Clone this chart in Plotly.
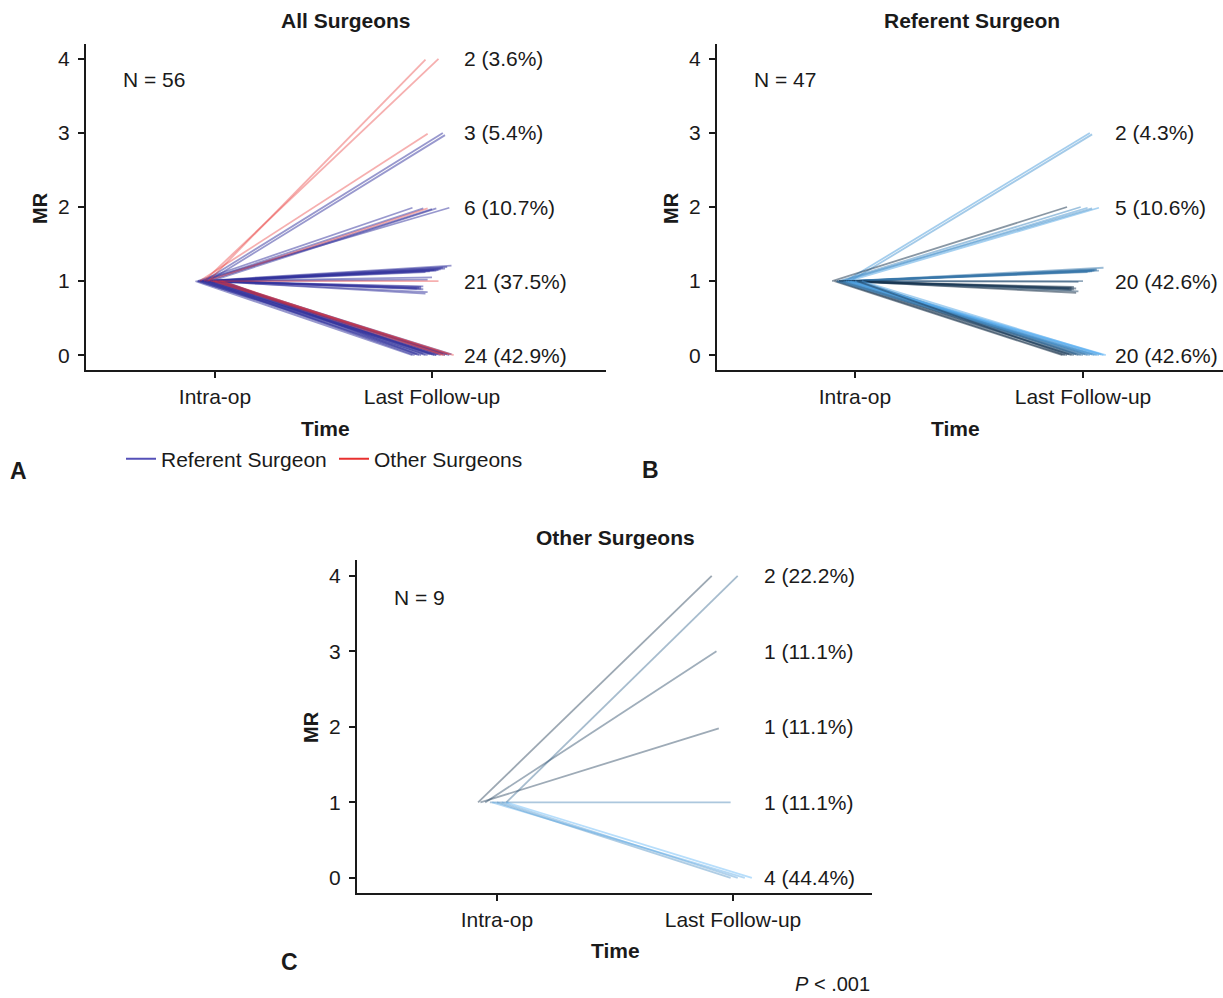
import plotly.graph_objects as go
from plotly.colors import sample_colorscale

# ---------------- data ----------------
levels = [0, 1, 2, 3, 4]
time_labels = ["Intra-op", "Last Follow-up"]
intraop_mr = 1

# Referent surgeon patients (n = 47): MR at last follow-up
ref_final = [3, 3,
             2, 2, 2, 2, 2,
             1, 1, 1, 1, 1, 1, 1, 1, 1, 1, 1, 1, 1, 1, 1, 1, 1, 1, 1, 1,
             0, 0, 0, 0, 0, 0, 0, 0, 0, 0, 0, 0, 0, 0, 0, 0, 0, 0, 0, 0]
# Other surgeons patients (n = 9)
oth_final = [4, 4, 3, 2, 1, 0, 0, 0, 0]

# Panel A jitter
A_ref_x0 = [0.95, 0.97,
            0.92, 0.94, 0.96, 0.98, 0.93,
            0.93, 0.95, 0.97, 0.99, 1.01, 0.94, 0.96, 0.98, 1.00, 1.02,
            0.95, 0.97, 0.92, 0.94, 0.96, 0.98, 1.00, 1.03, 0.95, 0.99,
            0.91, 0.93, 0.95, 0.97, 0.99, 1.01, 1.03, 0.92, 0.94, 0.96,
            0.98, 1.00, 1.02, 1.04, 0.93, 0.95, 0.97, 0.99, 1.01, 0.96]
A_ref_x1 = [2.05, 2.06,
            1.91, 1.96, 2.00, 2.02, 2.08,
            2.09, 2.07, 2.05, 2.06, 2.04, 2.03, 2.01, 2.02, 1.99, 1.97,
            2.00, 1.98, 1.96, 1.95, 1.94, 1.93, 1.95, 1.96, 1.98, 1.97,
            1.91, 1.93, 1.95, 1.96, 1.98, 1.99, 2.01, 2.02, 2.03, 2.04,
            2.05, 2.06, 2.07, 1.94, 1.97, 2.00, 2.02, 2.08, 2.09, 1.92]
A_ref_y1 = [3.00, 2.97,
            1.99, 1.98, 1.97, 1.98, 1.99,
            1.21, 1.19, 1.18, 1.17, 1.16, 1.15, 1.15, 1.14, 1.13, 1.12,
            1.05, 1.02, 0.93, 0.92, 0.91, 0.90, 0.90, 0.89, 0.85, 0.83,
            0.00, 0.01, 0.00, 0.02, 0.00, 0.01, 0.00, 0.00, 0.01, 0.00,
            0.02, 0.00, 0.01, 0.00, 0.00, 0.01, 0.00, 0.00, 0.01, 0.00]
A_oth_x0 = [0.97, 0.95, 0.93, 0.96, 0.98, 1.00, 1.02, 0.99, 1.03]
A_oth_x1 = [1.97, 2.03, 1.98, 1.98, 2.03, 2.05, 2.08, 2.10, 2.06]
A_oth_y1 = [3.99, 4.00, 2.99, 1.98, 1.00, 0.00, 0.01, 0.00, 0.00]

# Panel B jitter
B_ref_x0 = [0.96, 0.98,
            0.90, 0.93, 0.95, 0.97, 0.94,
            0.97, 0.99, 1.01, 0.98, 1.00, 0.96, 1.02, 0.99, 0.95, 1.01,
            0.93, 0.97, 0.92, 0.94, 0.96, 0.98, 0.95, 0.99, 0.93, 0.97,
            0.91, 0.92, 0.93, 0.95, 0.96, 0.98, 1.00, 1.02, 0.94, 0.97,
            0.99, 1.01, 0.92, 0.95, 0.97, 1.00, 1.03, 0.96, 0.98, 1.01]
B_ref_x1 = [2.03, 2.04,
            1.93, 1.99, 2.02, 2.07, 2.04,
            2.09, 2.06, 2.05, 2.07, 2.04, 2.03, 2.06, 2.02, 2.05, 2.04,
            2.00, 1.98, 1.96, 1.95, 1.97, 1.96, 1.94, 1.95, 1.98, 1.97,
            1.91, 1.92, 1.94, 1.95, 1.96, 1.97, 1.98, 1.99, 2.00, 2.01,
            2.02, 2.03, 2.04, 2.05, 2.06, 2.07, 2.08, 2.09, 2.10, 1.93]
B_ref_y1 = [3.00, 2.98,
            2.00, 2.00, 1.99, 1.99, 1.98,
            1.18, 1.16, 1.15, 1.14, 1.14, 1.13, 1.15, 1.12, 1.14, 1.13,
            1.00, 0.99, 0.92, 0.91, 0.90, 0.89, 0.90, 0.88, 0.86, 0.84,
            0.00, 0.00, 0.01, 0.00, 0.00, 0.01, 0.00, 0.00, 0.00, 0.01,
            0.00, 0.00, 0.01, 0.00, 0.00, 0.00, 0.01, 0.00, 0.00, 0.00]
B_ref_shade = [0.85, 0.80,
               0.05, 0.70, 0.80, 0.90, 0.75,
               0.60, 0.55, 0.60, 0.50, 0.55, 0.65, 0.60, 0.50, 0.55, 0.60,
               0.30, 0.25, 0.05, 0.00, 0.10, 0.05, 0.15, 0.10, 0.20, 0.00,
               0.00, 0.05, 0.10, 0.15, 0.20, 0.30, 0.35, 0.45, 0.50, 0.55,
               0.60, 0.65, 0.70, 0.75, 0.80, 0.85, 0.90, 0.95, 1.00, 0.10]

# Panel C jitter
C_oth_x0 = [0.92, 1.04, 0.95, 0.93, 0.97, 1.00, 1.02, 0.98, 1.04]
C_oth_x1 = [1.91, 2.02, 1.93, 1.94, 1.99, 1.99, 2.02, 2.05, 2.08]
C_oth_y1 = [4.00, 4.00, 3.00, 1.98, 1.00, 0.00, 0.00, 0.00, 0.00]
C_oth_shade = [0.05, 0.40, 0.15, 0.10, 0.60, 0.70, 0.80, 0.90, 1.00]

# ---------------- style ----------------
W, H = 1223, 998
FONT = "Liberation Sans, Arial, Helvetica, sans-serif"
FS = 21
TXT = "#1a1a1a"
REF_COL = "#34349e"
OTH_COL = "#e8302f"
GRAD = [[0, "#132B43"], [1, "#56B1F7"]]


def px_x(v):
    return v / W


def px_y(v):
    return 1 - v / H


fig = go.Figure()


def add_lines(x0s, x1s, y1s, colors, opacity, ax, width=1.8):
    for x0, x1, y1, c in zip(x0s, x1s, y1s, colors):
        fig.add_trace(go.Scatter(
            x=[x0, x1], y=[intraop_mr, y1], mode="lines",
            line=dict(color=c, width=width), opacity=opacity,
            hoverinfo="skip", showlegend=False,
            xaxis="x" + ax, yaxis="y" + ax))


# Panel A
add_lines(A_ref_x0, A_ref_x1, A_ref_y1, [REF_COL] * len(A_ref_x0), 0.5, "")
add_lines(A_oth_x0, A_oth_x1, A_oth_y1, [OTH_COL] * len(A_oth_x0), 0.38, "")
# Panel B
add_lines(B_ref_x0, B_ref_x1, B_ref_y1, sample_colorscale(GRAD, B_ref_shade), 0.5, "2")
# Panel C
add_lines(C_oth_x0, C_oth_x1, C_oth_y1, sample_colorscale(GRAD, C_oth_shade), 0.42, "3")

# legend entries
fig.add_trace(go.Scatter(x=[None], y=[None], mode="lines", name="Referent Surgeon",
                         line=dict(color="#5550b8", width=2), xaxis="x", yaxis="y"))
fig.add_trace(go.Scatter(x=[None], y=[None], mode="lines", name="Other Surgeons",
                         line=dict(color="#e8302f", width=2), xaxis="x", yaxis="y"))

# ---------------- axes ----------------
def axis_common():
    return dict(showline=True, linecolor="#1a1a1a", linewidth=2, ticks="outside",
                ticklen=6, tickwidth=1.5, tickcolor="#1a1a1a", showgrid=False,
                zeroline=False, fixedrange=True,
                tickfont=dict(family=FONT, size=FS, color=TXT))


def xaxis(dom, rng, anchor):
    d = axis_common()
    d.update(domain=dom, range=rng, anchor=anchor, tickvals=[1, 2],
             ticktext=time_labels, ticklabelstandoff=1)
    return d


def yaxis(dom, rng, anchor):
    d = axis_common()
    d.update(domain=dom, range=rng, anchor=anchor, tickvals=levels,
             ticklabelstandoff=4)
    return d


# pixel geometry of the panels
A_dom_x = [px_x(86), px_x(606)]
A_dom_y = [px_y(370), px_y(44)]
B_dom_x = [px_x(717), px_x(1223)]
C_dom_x = [px_x(357), px_x(872)]
C_dom_y = [px_y(893), px_y(560)]

fig.update_layout(
    width=W, height=H, margin=dict(l=0, r=0, t=0, b=0),
    paper_bgcolor="white", plot_bgcolor="white",
    font=dict(family=FONT, size=FS, color=TXT),
    xaxis=xaxis(A_dom_x, [0.4055, 2.802], "y"),
    yaxis=yaxis(A_dom_y, [-0.2, 4.2], "x"),
    xaxis2=xaxis(B_dom_x, [0.395, 2.614], "y2"),
    yaxis2=yaxis(A_dom_y, [-0.2, 4.2], "x2"),
    xaxis3=xaxis(C_dom_x, [0.407, 2.589], "y3"),
    yaxis3=yaxis(C_dom_y, [-0.2, 4.21], "x3"),
    legend=dict(orientation="h", x=px_x(121), y=px_y(459), xanchor="left",
                yanchor="middle", font=dict(family=FONT, size=FS, color=TXT),
                bgcolor="rgba(0,0,0,0)", itemwidth=30,
                entrywidth=168, entrywidthmode="pixels"),
)

ann = []


def text(x, y, s, size=FS, bold=False, xanchor="center", yanchor="middle",
         angle=0, xref="paper", yref="paper"):
    ann.append(dict(x=x, y=y, xref=xref, yref=yref, text=("<b>%s</b>" % s) if bold else s,
                    showarrow=False, xanchor=xanchor, yanchor=yanchor, textangle=angle,
                    font=dict(family=FONT, size=size, color=TXT)))


# titles
text(px_x(346), px_y(21), "All Surgeons", bold=True)
text(px_x(972), px_y(20), "Referent Surgeon", bold=True)
text(px_x(615), px_y(537), "Other Surgeons", bold=True)
# axis titles
text(px_x(325), px_y(428), "Time", bold=True)
text(px_x(955), px_y(428), "Time", bold=True)
text(px_x(615), px_y(950), "Time", bold=True)
text(px_x(40), px_y(208), "MR", size=20, bold=True, angle=-90)
text(px_x(671), px_y(208), "MR", size=20, bold=True, angle=-90)
text(px_x(311), px_y(727), "MR", size=20, bold=True, angle=-90)
# N labels
text(px_x(121), px_y(79), "N = %d" % (len(ref_final) + len(oth_final)), xanchor="left")
text(px_x(752), px_y(79), "N = %d" % len(ref_final), xanchor="left")
text(px_x(392), px_y(597), "N = %d" % len(oth_final), xanchor="left")


# count labels at each follow-up level
def count_labels(finals, xpix, yref):
    n = len(finals)
    for lv in levels:
        k = finals.count(lv)
        if k == 0:
            continue
        text(px_x(xpix), lv, "%d (%.1f%%)" % (k, 100.0 * k / n), xanchor="left",
             yref=yref)


count_labels(ref_final + oth_final, 462, "y")
count_labels(ref_final, 1113, "y2")
count_labels(oth_final, 762, "y3")

# panel letters and p-value
text(px_x(18), px_y(471), "A", size=23, bold=True)
text(px_x(650), px_y(470), "B", size=23, bold=True)
text(px_x(289), px_y(962), "C", size=23, bold=True)
text(px_x(872), px_y(984), "<i>P</i> < .001", size=20, xanchor="right")

fig.update_layout(annotations=ann)
fig.write_html("out.html")
